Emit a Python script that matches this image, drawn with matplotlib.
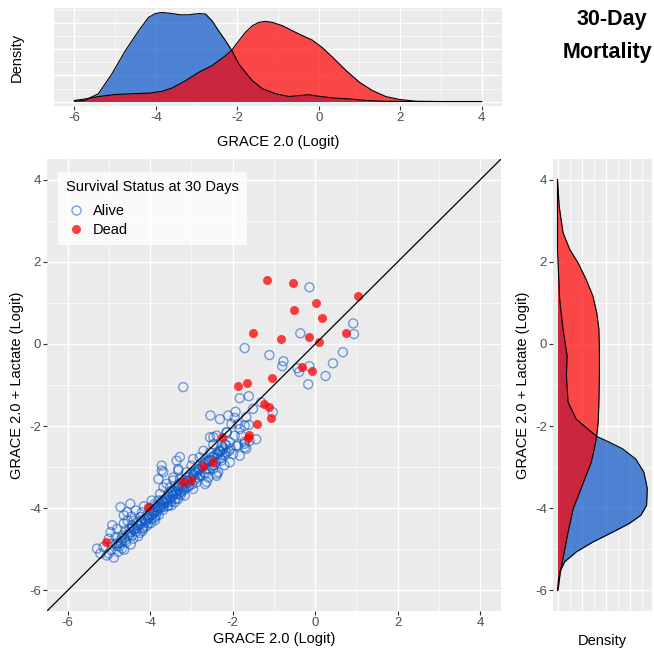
import matplotlib.pyplot as plt
from matplotlib.lines import Line2D
from matplotlib.ticker import MultipleLocator, NullFormatter

plt.rcParams['font.family'] = ['Liberation Sans', 'DejaVu Sans']
plt.rcParams['axes.unicode_minus'] = False

ALIVE_COLOR = '#0A56C8'
DEAD_COLOR = '#FF0000'
PANEL_BG = '#EBEBEB'

# GRACE 2.0 logit vs GRACE 2.0 + lactate logit, per patient
alive_grace = [
    -0.14, -0.36, 0.92, 0.94, -1.71, -1.11, 0.67, -0.77, -0.80, -0.43,
    -0.39, -0.14, 0.43, 0.25, -0.17, -3.20, -1.83, -1.61, -1.51, -1.31,
    -1.03, -2.54, -2.31, -2.11, -1.93, -1.95, -1.67, -1.61, -2.03, -1.83,
    -2.14, -1.95, -2.47, -1.71, -1.67, -2.07, -1.87, -1.87, -1.71,
    -2.55, -2.39, -2.15, -1.79, -1.59, -1.43,
    -2.47, -2.27, -1.91, -1.71,
    -2.71, -2.55, -2.35, -2.15, -1.99, -1.83,
    -2.96, -2.80, -2.59, -2.43, -2.27, -2.07,
    -3.72, -3.36, -3.00, -2.84, -2.63, -2.47, -2.35,
    -3.68, -3.32, -3.12, -2.96, -2.80, -2.59, -2.39,
    -3.80, -3.44, -3.28, -3.08, -2.88, -2.67,
    -3.68, -3.52, -3.32, -3.12, -2.96,
    -3.76, -3.56, -3.36, -3.16,
    -3.96, -3.80, -3.60, -3.40,
    -3.88, -3.68, -3.48,
    -2.39, -2.63, -1.71, -3.28,
    -5.29, -5.13, -5.21, -5.00, -4.68, -4.92, -4.76, -4.60, -5.00, -4.84,
    -4.68, -4.48, -4.32, -4.16, -4.04, -3.88, -4.96, -4.80, -4.64, -4.60,
    -4.44, -4.32, -4.24, -4.08, -3.92, -3.80, -3.32, -4.48,
    -3.40, -3.20, -3.60, -3.44, -3.72, -3.32, -4.72,
    -4.56, -4.92, -4.64,
    -4.40, -4.20, -4.00, -3.90, -3.70, -4.10, -3.95, -3.75, -3.60, -3.50,
    -4.15, -4.35, -4.55, -4.50, -4.25, -4.05, -3.85, -3.65, -3.45, -3.25,
    -3.05, -2.85, -2.65, -2.45, -2.25, -2.05, -3.30, -3.10, -2.90, -2.70,
    -2.50, -2.30, -2.20, -4.30, -4.45, -4.70,
    -5.05, -4.95, -4.88, -4.83, -4.78, -4.74, -4.69, -4.63, -4.58, -4.54,
    -4.47, -4.43, -4.41, -4.34, -4.29, -4.22, -4.19, -4.13, -4.08, -4.03,
    -3.98, -3.94, -3.89, -3.83, -3.79, -3.73, -3.69, -3.64, -3.58, -3.53,
    -3.49, -3.46, -3.38, -3.33, -3.29, -3.22, -3.18, -3.14, -3.08, -3.04,
    -2.98, -2.93, -2.91, -2.84, -2.79, -2.74, -2.69, -2.66, -2.58, -2.56,
    -2.49, -2.44, -2.41, -2.33, -2.29, -2.24, -2.19, -2.16, -2.09,
    -4.62, -4.51, -4.39, -4.28, -4.21, -4.12, -4.02, -3.97, -3.91, -3.82,
    -3.74, -3.67, -3.59, -3.52, -3.43, -3.37, -3.31, -3.21, -3.16, -3.09,
    -3.01, -2.94, -2.87, -2.81, -2.73, -2.68, -2.59, -2.52, -2.46, -2.38,
    -2.31, -2.23, -2.18, -4.81, -4.71, -4.44, -4.17, -3.86, -3.55, -3.26,
]
alive_lactate = [
    1.38, 0.26, 0.50, 0.24, -0.10, -0.27, -0.20, -0.42, -0.54, -0.59,
    -0.68, -0.54, -0.47, -0.78, -0.98, -1.05, -1.32, -1.27, -1.58, -1.42,
    -1.66, -1.74, -1.83, -1.74, -1.65, -1.80, -1.78, -1.97, -1.95, -2.07,
    -2.15, -2.23, -2.27, -2.38, -2.55, -2.39, -2.47, -1.95, -1.99,
    -2.27, -2.23, -2.15, -2.23, -2.36, -2.32,
    -2.44, -2.48, -2.48, -2.52,
    -2.60, -2.64, -2.68, -2.64, -2.68, -2.72,
    -2.80, -2.76, -2.84, -2.88, -2.84, -2.88,
    -2.96, -2.84, -2.96, -3.04, -3.04, -3.04, -3.12,
    -3.12, -3.04, -3.12, -3.16, -3.21, -3.25, -3.21,
    -3.29, -3.25, -3.29, -3.37, -3.37, -3.41,
    -3.49, -3.49, -3.45, -3.49, -3.53,
    -3.65, -3.65, -3.65, -3.69,
    -3.81, -3.81, -3.81, -3.85,
    -3.95, -3.97, -3.93,
    -3.16, -3.36, -2.43, -2.75,
    -4.98, -4.94, -5.10, -5.10, -4.98, -4.86, -4.86, -4.78, -4.74, -4.70,
    -4.66, -4.58, -4.50, -4.46, -4.37, -4.29, -4.58, -4.50, -4.37, -4.54,
    -4.42, -4.33, -4.21, -4.17, -4.09, -4.01, -3.77, -3.89,
    -3.61, -3.53, -3.40, -3.32, -3.08, -3.08, -3.97,
    -4.09, -4.41, -4.17,
    -4.30, -4.10, -4.00, -3.90, -3.80, -4.30, -4.15, -3.95, -3.75, -3.60,
    -3.95, -4.05, -4.30, -4.50, -4.60, -4.25, -4.05, -3.85, -3.70, -3.60,
    -3.45, -3.25, -3.15, -2.95, -2.70, -2.55, -3.40, -3.25, -3.10, -2.90,
    -2.75, -2.60, -2.95, -4.42, -4.20, -4.80,
    -5.15, -5.02, -5.20, -4.86, -5.06, -4.93, -4.72, -5.01, -4.83, -4.66,
    -4.88, -4.47, -4.74, -4.57, -4.68, -4.36, -4.55, -4.27, -4.43, -4.18,
    -4.36, -4.07, -4.23, -3.97, -4.16, -3.91, -4.04, -3.79, -3.95, -3.72,
    -3.84, -3.57, -3.77, -3.51, -3.64, -3.42, -3.56, -3.33, -3.48, -3.23,
    -3.41, -3.12, -3.30, -3.07, -3.19, -2.96, -3.13, -2.87, -3.04, -2.82,
    -2.96, -2.71, -2.88, -2.62, -2.79, -2.57, -2.70, -2.47, -2.61,
    -4.71, -4.63, -4.52, -4.41, -4.30, -4.34, -4.22, -4.26, -4.12, -4.07,
    -3.98, -3.88, -3.86, -3.79, -3.66, -3.58, -3.55, -3.47, -3.38, -3.33,
    -3.28, -3.19, -3.14, -3.06, -3.00, -2.93, -2.86, -2.83, -2.76, -2.66,
    -2.61, -2.52, -2.44, -4.92, -4.84, -4.66, -4.49, -4.18, -3.93, -3.68,
]
dead_grace = [
    -1.18, -0.55, 0.02, 1.04, -0.51, 0.17, -1.52, 0.75, -0.84, -0.14,
    0.10, -0.31, -0.07, -1.04, -1.88, -1.66, -1.23, -1.13, -1.08, -1.42,
    -1.61, -1.63, -2.27, -2.48, -2.72, -3.01, -3.20, -5.08, -4.05,
]
dead_lactate = [
    1.55, 1.48, 1.01, 1.18, 0.82, 0.63, 0.26, 0.26, 0.12, 0.16,
    0.04, -0.56, -0.66, -0.83, -1.02, -0.95, -1.46, -1.54, -1.80, -1.95,
    -2.21, -2.29, -2.27, -2.87, -2.97, -3.31, -3.36, -4.83, -3.98,
]

# marginal density of GRACE 2.0 (top)
top_alive_x = [
    -6.0, -5.75, -5.41, -5.08, -4.75, -4.42, -4.18, -4.01, -3.85, -3.60,
    -3.40, -3.19, -2.95, -2.78, -2.62, -2.46, -2.29, -2.13, -1.96, -1.80,
    -1.63, -1.38, -1.06, -0.73, -0.48, -0.24, 0.0, 0.34, 0.75, 1.16,
    1.57, 2.5, 4.0,
]
top_alive_dens = [
    0.001, 0.004, 0.030, 0.106, 0.195, 0.272, 0.323, 0.338, 0.342, 0.338,
    0.333, 0.333, 0.338, 0.336, 0.310, 0.272, 0.234, 0.195, 0.144, 0.112,
    0.080, 0.049, 0.030, 0.019, 0.023, 0.026, 0.020, 0.014, 0.010, 0.004,
    0.001, 0.0, 0.0,
]
top_dead_x = [
    -6.0, -5.73, -5.41, -5.0, -4.59, -4.18, -3.85, -3.60, -3.27, -2.95,
    -2.62, -2.29, -2.13, -1.96, -1.80, -1.63, -1.47, -1.31, -1.14, -0.89,
    -0.65, -0.40, -0.16, 0.08, 0.34, 0.67, 1.0, 1.32, 1.65, 1.98,
    2.39, 3.0, 4.0,
]
top_dead_dens = [
    0.004, 0.010, 0.019, 0.027, 0.030, 0.032, 0.039, 0.052, 0.080, 0.112,
    0.138, 0.176, 0.198, 0.234, 0.266, 0.291, 0.304, 0.308, 0.304, 0.291,
    0.272, 0.253, 0.236, 0.208, 0.170, 0.119, 0.074, 0.042, 0.019, 0.008,
    0.001, 0.0, 0.0,
]

# marginal density of GRACE 2.0 + lactate (right)
right_alive_y = [
    4.0, 2.3, 1.75, 1.09, 0.36, -0.29, -0.77, -1.42, -1.83, -2.07,
    -2.25, -2.39, -2.55, -2.80, -3.12, -3.52, -3.93, -4.17, -4.37, -4.58,
    -4.82, -5.06, -5.30, -5.55, -5.79, -6.0,
]
right_alive_dens = [
    0.0, 0.0, 0.004, 0.009, 0.023, 0.040, 0.037, 0.044, 0.078, 0.126,
    0.163, 0.215, 0.270, 0.325, 0.359, 0.373, 0.370, 0.346, 0.298, 0.229,
    0.147, 0.078, 0.030, 0.009, 0.003, 0.0,
]
right_dead_y = [
    4.0, 3.35, 2.71, 2.30, 1.98, 1.57, 1.17, 0.76, 0.36, -0.13,
    -0.77, -1.42, -1.91, -2.23, -2.55, -2.88, -3.20, -3.61, -4.01, -4.58,
    -5.22, -5.55, -5.95, -6.0,
]
right_dead_dens = [
    0.0, 0.007, 0.023, 0.051, 0.085, 0.119, 0.147, 0.163, 0.172, 0.174,
    0.174, 0.172, 0.169, 0.163, 0.153, 0.140, 0.119, 0.092, 0.065, 0.044,
    0.023, 0.012, 0.003, 0.0,
]

logit_ticks = [-6, -4, -2, 0, 2, 4]
logit_lim = (-6.5, 4.5)


def style_panel(ax):
    ax.set_facecolor(PANEL_BG)
    for s in ax.spines.values():
        s.set_visible(False)
    ax.grid(which='major', color='white', linewidth=1.0)
    ax.grid(which='minor', color='white', linewidth=0.5)
    ax.set_axisbelow(True)
    ax.tick_params(which='major', length=3, width=0.8, color='#333333',
                   labelcolor='#4D4D4D', labelsize=9.5, pad=1.5)
    ax.tick_params(which='minor', length=0)


def logit_axis(axis):
    axis.set_major_locator(MultipleLocator(2))
    axis.set_minor_locator(MultipleLocator(1))
    axis.set_ticks(logit_ticks, [str(t) for t in logit_ticks])


def density_axis(axis):
    axis.set_major_locator(MultipleLocator(0.1))
    axis.set_minor_locator(MultipleLocator(0.05))
    axis.set_major_formatter(NullFormatter())


fig = plt.figure(figsize=(6.54, 6.53), dpi=100)

ax_main = fig.add_axes([0.0719, 0.0643, 0.694, 0.692])
ax_top = fig.add_axes([0.0826, 0.8377, 0.685, 0.150])
ax_right = fig.add_axes([0.8456, 0.0643, 0.151, 0.692])

# --- scatter
style_panel(ax_main)
ax_main.scatter(alive_grace, alive_lactate, s=42, facecolors='none',
                edgecolors=ALIVE_COLOR, linewidths=1.0, alpha=0.55, zorder=2)
ax_main.scatter(dead_grace, dead_lactate, s=42, color=DEAD_COLOR, alpha=0.75,
                linewidths=0, zorder=3)
ax_main.axline((0, 0), slope=1, color='black', linewidth=0.9, zorder=4)
ax_main.set_xlim(logit_lim)
ax_main.set_ylim(logit_lim)
logit_axis(ax_main.xaxis)
logit_axis(ax_main.yaxis)
ax_main.set_xlabel('GRACE 2.0 (Logit)', fontsize=10.5)
ax_main.set_ylabel('GRACE 2.0 + Lactate (Logit)', fontsize=10.5)
ax_main.xaxis.set_label_coords(0.5, -0.047)
ax_main.yaxis.set_label_coords(-0.051, 0.5)

handles = [
    Line2D([], [], linestyle='none', marker='o', markersize=6.5,
           markerfacecolor='none', markeredgecolor=ALIVE_COLOR,
           markeredgewidth=1.0, alpha=0.55),
    Line2D([], [], linestyle='none', marker='o', markersize=6.5,
           markerfacecolor=DEAD_COLOR, markeredgewidth=0, alpha=0.75),
]
leg = ax_main.legend(handles, ['Alive', 'Dead'],
                     title='Survival Status at 30 Days', loc='upper left',
                     bbox_to_anchor=(0.024, 0.971), fontsize=10.5,
                     title_fontsize=10.5, alignment='left', frameon=True,
                     fancybox=False, borderpad=0.55, handlelength=1.4,
                     handletextpad=0.45, labelspacing=0.35,
                     borderaxespad=0)
leg.get_frame().set_facecolor((1, 1, 1, 0.45))
leg.get_frame().set_linewidth(0)
# a little more room between the title and the keys
leg._legend_box.sep = 7

# --- top marginal
style_panel(ax_top)
ax_top.fill_between(top_alive_x, top_alive_dens, color=ALIVE_COLOR,
                    alpha=0.7, linewidth=0)
ax_top.plot(top_alive_x, top_alive_dens, color='black', linewidth=0.8)
ax_top.fill_between(top_dead_x, top_dead_dens, color=DEAD_COLOR,
                    alpha=0.7, linewidth=0)
ax_top.plot(top_dead_x, top_dead_dens, color='black', linewidth=0.8)
ax_top.set_xlim(logit_lim)
top_max = max(max(top_alive_dens), max(top_dead_dens))
ax_top.set_ylim(-0.05 * top_max, 1.05 * top_max)
logit_axis(ax_top.xaxis)
density_axis(ax_top.yaxis)
ax_top.tick_params(axis='y', length=0)
ax_top.set_xlabel('GRACE 2.0 (Logit)', fontsize=10.5)
ax_top.set_ylabel('Density', fontsize=10.5)
ax_top.xaxis.set_label_coords(0.5, -0.30)
ax_top.yaxis.set_label_coords(-0.067, 0.5)

# --- right marginal
style_panel(ax_right)
ax_right.fill_betweenx(right_alive_y, right_alive_dens, color=ALIVE_COLOR,
                       alpha=0.7, linewidth=0)
ax_right.plot(right_alive_dens, right_alive_y, color='black', linewidth=0.8)
ax_right.fill_betweenx(right_dead_y, right_dead_dens, color=DEAD_COLOR,
                       alpha=0.7, linewidth=0)
ax_right.plot(right_dead_dens, right_dead_y, color='black', linewidth=0.8)
ax_right.set_ylim(logit_lim)
right_max = max(max(right_alive_dens), max(right_dead_dens))
ax_right.set_xlim(-0.05 * right_max, 1.05 * right_max)
logit_axis(ax_right.yaxis)
density_axis(ax_right.xaxis)
ax_right.tick_params(axis='x', length=0)
ax_right.set_xlabel('Density', fontsize=10.5)
ax_right.set_ylabel('GRACE 2.0 + Lactate (Logit)', fontsize=10.5)
ax_right.xaxis.set_label_coords(0.5, -0.051)
ax_right.yaxis.set_label_coords(-0.232, 0.5)

# --- title block
fig.text(0.989, 1 - 25 / 653, '30-Day', ha='right', va='baseline',
         fontsize=15.5, fontweight='bold')
fig.text(0.997, 1 - 58 / 653, 'Mortality', ha='right', va='baseline',
         fontsize=15.5, fontweight='bold')

fig.savefig('out.png', dpi=100)
